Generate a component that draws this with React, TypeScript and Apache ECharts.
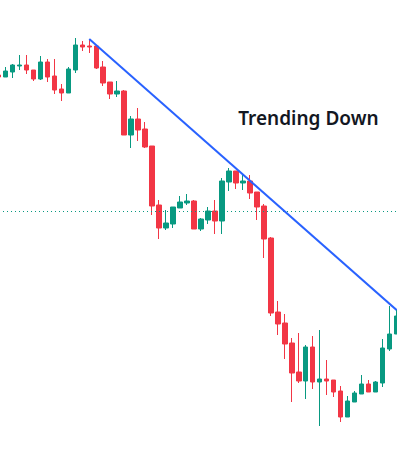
import React, { useEffect, useRef } from "react";
import * as echarts from "echarts";

// Candles: [open, close, low, high]
const categories: string[] = Array.from({ length: 58 }, (_, i) => String(i));

const opens = [377, 375, 380, 386, 387, 382, 373, 390, 376, 363, 359, 382, 407, 406, 406, 385, 370, 358, 361, 317, 333, 323, 306, 247, 224, 228, 244, 249, 251, 223, 232, 241, 231, 270, 281, 269, 271, 260, 246, 214, 140, 129, 109, 80, 71, 105, 70, 73, 72, 61, 35, 50, 58, 68, 60, 69, 103, 118];
const closes = [375, 381, 387, 387, 382, 373, 390, 375, 362, 359, 383, 407, 405, 405, 384, 369, 358, 361, 317, 333, 322, 305, 246, 224, 229, 245, 250, 251, 223, 233, 241, 231, 271, 281, 269, 271, 259, 245, 213, 139, 128, 108, 79, 71, 105, 70, 73, 71, 60, 35, 51, 59, 68, 60, 70, 104, 118, 136];
const lows = [375, 375, 374, 382, 378, 371, 372, 370, 358, 351, 359, 379, 401, 399, 383, 366, 353, 355, 317, 304, 311, 304, 237, 213, 222, 224, 244, 247, 223, 221, 228, 218, 218, 261, 263, 262, 253, 232, 194, 136, 117, 93, 50, 69, 53, 63, 26, 57, 55, 30, 35, 50, 58, 60, 60, 65, 101, 118];
const highs = [377, 385, 388, 397, 397, 382, 396, 393, 393, 368, 385, 414, 411, 413, 406, 391, 370, 371, 362, 336, 344, 330, 306, 252, 242, 245, 256, 258, 252, 234, 245, 252, 274, 284, 281, 277, 277, 260, 248, 215, 151, 138, 114, 119, 107, 116, 122, 92, 72, 66, 56, 61, 77, 72, 71, 113, 146, 142];

const trendStart = { index: "13", value: 413 };
const trendEnd = { index: "57", value: 142 };
const referenceLevel = 241;
const annotation = "Trending Down";

const UP = "#089981";
const DOWN = "#F23645";

const OFFSET = 5.19;
const CHART_W = 404.84;

export default function App() {
  const ref = useRef<HTMLDivElement>(null);
  useEffect(() => {
    if (!ref.current) return;
    const chart = echarts.init(ref.current, undefined, { renderer: "svg" });
    const data = opens.map((o, i) => [o, closes[i], lows[i], highs[i]]);
    chart.setOption({
      animation: false,
      backgroundColor: "#ffffff",
      grid: { left: 0, right: 0, top: 0, bottom: 0 },
      xAxis: {
        type: "category",
        data: categories,
        boundaryGap: true,
        show: false,
      },
      yAxis: { type: "value", min: 0, max: 452, show: false },
      graphic: [
        {
          type: "text",
          left: 238 + OFFSET,
          top: 108,
          style: {
            text: annotation,
            fontSize: 19,
            fontWeight: 600,
            fontFamily: "Noto Sans",
            fill: "#131722",
          },
        },
      ],
      series: [
        {
          type: "candlestick",
          data,
          barWidth: 5,
          itemStyle: {
            color: UP,
            color0: DOWN,
            borderColor: UP,
            borderColor0: DOWN,
            borderWidth: 1,
          },
          markLine: {
            symbol: "none",
            silent: true,
            label: { show: false },
            data: [
              {
                yAxis: referenceLevel,
                lineStyle: { color: UP, width: 1, type: [1, 3] },
              },
              [
                { coord: [trendStart.index, trendStart.value], lineStyle: { color: "#2962FF", width: 2, type: "solid" } },
                { coord: [trendEnd.index, trendEnd.value] },
              ],
            ],
          },
        },
      ],
    });
    return () => chart.dispose();
  }, []);
  return (
    <div
      style={{ position: "absolute", left: 0, top: 0, width: 397, height: 452, overflow: "hidden", background: "#fff" }}
    >
      <div
        ref={ref}
        style={{ position: "absolute", left: -OFFSET, top: 0, width: CHART_W, height: 452 }}
      />
    </div>
  );
}
